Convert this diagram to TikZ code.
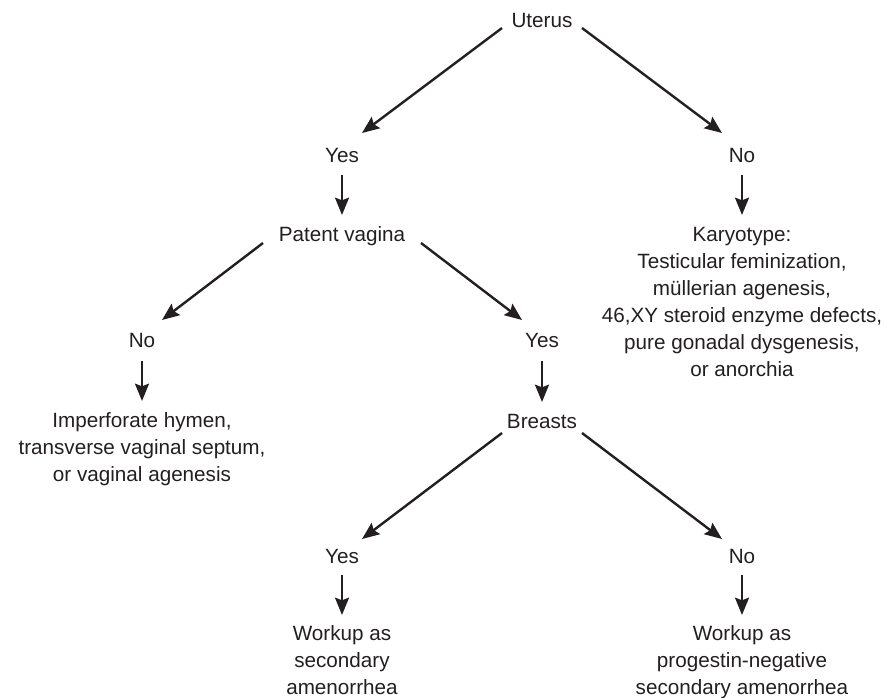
\documentclass[tikz,border=0pt]{standalone}
\usepackage{fontspec}
\setmainfont{Liberation Sans}
\usetikzlibrary{arrows.meta}
\definecolor{ink}{HTML}{231F20}
\begin{document}
\begin{tikzpicture}[x=0.75pt,y=-0.75pt,
  every node/.style={inner sep=0pt,outer sep=0pt,text=ink,
    font=\fontsize{15.5}{20.25}\selectfont},
  label/.style={anchor=base},
  outcome/.style={anchor=north,align=center},
  arr/.style={draw=ink,line width=1.8pt,
    -{Stealth[length=13pt,width=10.5pt,inset=2pt]}}]
\useasboundingbox (0,0) rectangle (888,698);

% decision labels (positioned on their baselines)
\node[label] (ut) at (542,28)  {Uterus};
\node[label] (y1) at (342,163) {Yes};
\node[label] (n1) at (742,163) {No};
\node[label] (pv) at (342,242) {Patent vagina};
\node[label] (n2) at (142,348) {No};
\node[label] (y2) at (542,348) {Yes};
\node[label] (br) at (542,428) {Breasts};
\node[label] (y3) at (342,563) {Yes};
\node[label] (n3) at (742,563) {No};

% outcome texts
\node[outcome] (kt) at (742,227) {Karyotype:\\Testicular feminization,\\müllerian agenesis,\\46,XY steroid enzyme defects,\\pure gonadal dysgenesis,\\or anorchia};
\node[outcome] (im) at (142,413) {Imperforate hymen,\\transverse vaginal septum,\\or vaginal agenesis};
\node[outcome] (w1) at (342,626) {Workup as\\secondary\\amenorrhea};
\node[outcome] (w2) at (742,626) {Workup as\\progestin-negative\\secondary amenorrhea};

% connectors
\draw[arr] ([shift={(-40,0)}]ut.base) -- ([shift={(20,-30)}]y1.base);
\draw[arr] ([shift={(40,0)}]ut.base)  -- ([shift={(-20,-30)}]n1.base);
\draw[arr] ([shift={(0,12)}]y1.base)  -- ([shift={(0,-27)}]pv.base);
\draw[arr] ([shift={(0,12)}]n1.base)  -- ([shift={(0,-12)}]kt.north);
\draw[arr] ([shift={(-79,1)}]pv.base) -- ([shift={(20,-28)}]n2.base);
\draw[arr] ([shift={(79,1)}]pv.base)  -- ([shift={(-20,-28)}]y2.base);
\draw[arr] ([shift={(0,13)}]n2.base)  -- ([shift={(0,-12)}]im.north);
\draw[arr] ([shift={(0,13)}]y2.base)  -- ([shift={(0,-26)}]br.base);
\draw[arr] ([shift={(-40,5)}]br.base) -- ([shift={(20,-24)}]y3.base);
\draw[arr] ([shift={(40,5)}]br.base)  -- ([shift={(-20,-24)}]n3.base);
\draw[arr] ([shift={(0,12)}]y3.base)  -- ([shift={(0,-11)}]w1.north);
\draw[arr] ([shift={(0,12)}]n3.base)  -- ([shift={(0,-11)}]w2.north);
\end{tikzpicture}
\end{document}
